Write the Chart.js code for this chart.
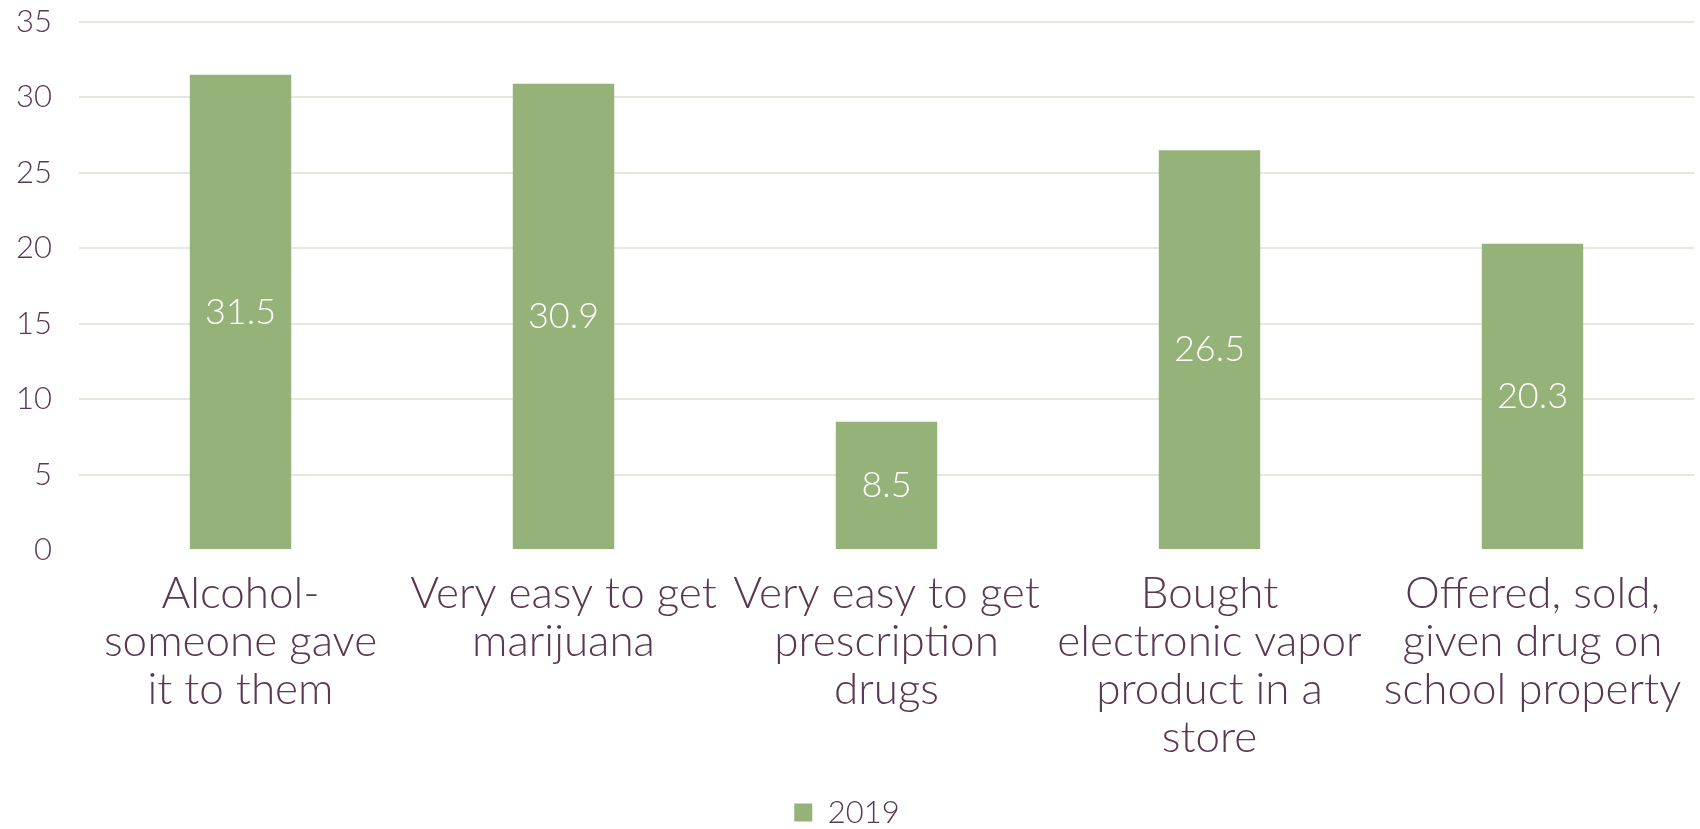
<!DOCTYPE html>
<html>
<head>
<meta charset="utf-8">
<script src="https://cdn.jsdelivr.net/npm/chart.js@4/dist/chart.umd.min.js"></script>
<style>
  html, body { margin: 0; padding: 0; background: #fff; }
  #wrap { width: 1700px; height: 829px; }
</style>
</head>
<body>
<div id="wrap"><canvas id="accessChart" width="1700" height="829"></canvas></div>
<script>
var categories = [
  ["Alcohol-", "someone gave", "it to them"],
  ["Very easy to get", "marijuana"],
  ["Very easy to get", "prescription", "drugs"],
  ["Bought", "electronic vapor", "product in a", "store"],
  ["Offered, sold,", "given drug on", "school property"]
];
var values2019 = [31.5, 30.9, 8.5, 26.5, 20.3];
var seriesName = "2019";
var yTicks = [0, 5, 10, 15, 20, 25, 30, 35];

var textColor = "#5a3752";
var barColor = "#95b279";
var fontFamily = "Lato, 'Open Sans', sans-serif";

// value labels in the middle of each bar
var barLabels = {
  id: "barLabels",
  afterDatasetsDraw: function (chart) {
    var ctx = chart.ctx;
    var meta = chart.getDatasetMeta(0);
    ctx.save();
    ctx.fillStyle = "#ffffff";
    ctx.font = "300 36px " + fontFamily;
    ctx.textAlign = "center";
    ctx.textBaseline = "middle";
    meta.data.forEach(function (bar, i) {
      var v = chart.data.datasets[0].data[i];
      ctx.fillText(v.toFixed(1), bar.x, (bar.y + bar.base) / 2);
    });
    ctx.restore();
  }
};

var ctx = document.getElementById("accessChart").getContext("2d");

var newChart = new Chart(ctx, {
  type: "bar",
  data: {
    labels: categories,
    datasets: [
      {
        label: seriesName,
        data: values2019,
        backgroundColor: barColor,
        borderWidth: 0,
        barPercentage: 0.314,
        categoryPercentage: 1,
      },
    ],
  },
  plugins: [barLabels],
  options: {
    responsive: false,
    animation: false,
    layout: {
      padding: { top: 22, right: 6, bottom: -9, left: 0 },
    },
    plugins: {
      legend: {
        display: true,
        position: "bottom",
        labels: {
          color: textColor,
          font: { family: fontFamily, size: 31, weight: 300 },
          boxWidth: 18,
          boxHeight: 18,
          padding: 4,
        },
      },
      tooltip: { enabled: false },
    },
    scales: {
      y: {
        min: 0,
        max: 35,
        afterFit: function (scale) {
          scale.width = 79;
          scale.paddingTop = 0;
          scale.paddingBottom = 0;
        },
        afterBuildTicks: function (scale) {
          scale.ticks = yTicks.map(function (v) { return { value: v }; });
        },
        border: { display: false },
        grid: {
          color: function (c) {
            return c.tick && c.tick.value === 0 ? "rgba(0,0,0,0)" : "#e3eadc";
          },
          lineWidth: 2,
          drawTicks: false,
        },
        ticks: {
          color: textColor,
          font: { family: fontFamily, size: 31, weight: 300 },
          padding: 27,
        },
      },
      x: {
        afterFit: function (scale) {
          scale.height = 243;
          scale.paddingLeft = 0;
          scale.paddingRight = 0;
        },
        border: { display: false },
        grid: {
          display: false,
          drawTicks: false,
        },
        ticks: {
          color: textColor,
          font: { family: fontFamily, size: 44, weight: 300, lineHeight: 1.09 },
          padding: 20,
          maxRotation: 0,
          autoSkip: false,
        },
      },
    },
  },
});
</script>
</body>
</html>
